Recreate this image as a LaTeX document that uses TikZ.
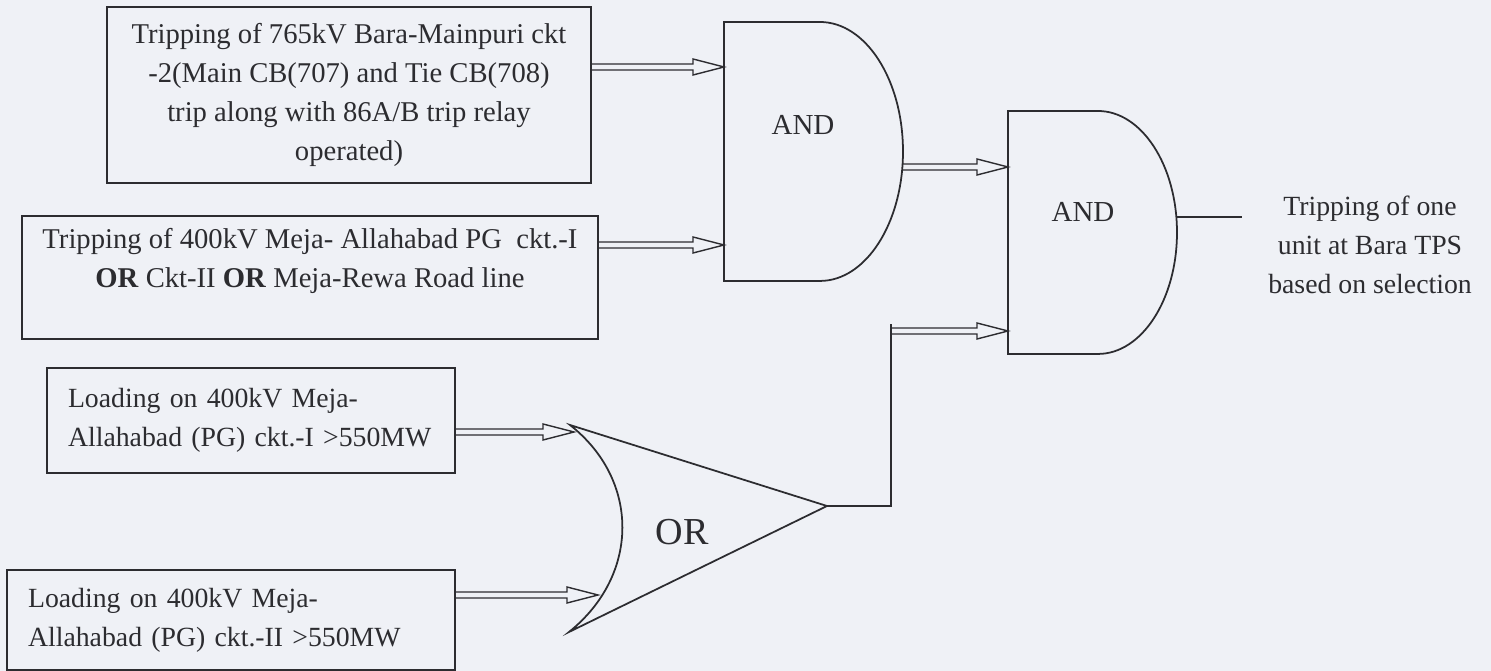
\documentclass[tikz,border=0pt]{standalone}
\usepackage{fontspec}
\setmainfont{Liberation Serif}
\usetikzlibrary{calc,positioning,backgrounds}

\definecolor{paper}{RGB}{239,241,246}
\definecolor{ink}{RGB}{44,44,48}

\tikzset{
  block/.style={draw=ink, line width=1pt, text=ink},
  smalltext/.style={font=\fontsize{15.8}{22.2}\selectfont},
  gate/.style={draw=ink, line width=1pt},
  wire/.style={draw=ink, line width=1pt},
  gatelabel/.style={text=ink, font=\fontsize{16.5}{20}\selectfont},
  dblarrow/.style={draw=ink, line width=0.8pt, to path={
      ($(\tikztostart)+(0,-3)$) -- ($(\tikztotarget)+(-31,-3)$)
      -- ($(\tikztotarget)+(-31,-8)$) -- (\tikztotarget)
      -- ($(\tikztotarget)+(-31,8)$) -- ($(\tikztotarget)+(-31,3)$)
      -- ($(\tikztostart)+(0,3)$)}}
}

\begin{document}
\begin{tikzpicture}[x=0.02cm, y=-0.02cm,
  font=\fontsize{16.3}{22.2}\selectfont,
  execute at end picture=%
  {
    \begin{pgfonlayer}{background}
      \path[fill=paper]
      (current bounding box.south west) rectangle
      (current bounding box.north east);
    \end{pgfonlayer}
  }]
  \useasboundingbox (0,0) rectangle (1491,671);

  % input conditions
  \node[block, minimum width=9.68cm, minimum height=3.52cm, align=center]
    (trip765) at (349,95)
    {Tripping of 765kV Bara-Mainpuri ckt\\ -2(Main CB(707) and Tie CB(708)\\
     trip along with 86A/B trip relay\\ operated)};
  \node[block, minimum width=11.52cm, minimum height=2.46cm, align=center]
    (trip400) at (310,277.5)
    {Tripping of 400kV Meja- Allahabad PG\ \ ckt.-I\\
     \textbf{OR} Ckt-II \textbf{OR} Meja-Rewa Road line\\ \mbox{}};
  \node[block, smalltext, minimum height=2.1cm, inner xsep=0.42cm, text width=7.32cm, align=left]
    (loadone) at (251,420.5)
    {Loading on 400kV Meja-\\ Allahabad (PG) ckt.-I >550MW};
  \node[block, smalltext, minimum height=2cm, inner xsep=0.42cm, text width=8.12cm, align=left]
    (loadtwo) at (231,620)
    {Loading on 400kV Meja-\\ Allahabad (PG) ckt.-II >550MW};

  % gates
  \draw[gate] (724,22) -- (820,22)
    arc[start angle=90, end angle=-90, x radius=1.66cm, y radius=2.59cm]
    -- (724,281) -- cycle;
  \node[gatelabel] (andone) at (803,125) {AND};
  \coordinate (andonein1) at (724,67);
  \coordinate (andonein2) at (724,245);
  \coordinate (andoneout) at (903,167);

  \draw[gate] (1008,111) -- (1098,111)
    arc[start angle=90, end angle=-90, x radius=1.58cm, y radius=2.43cm]
    -- (1008,354) -- cycle;
  \node[gatelabel] (andtwo) at (1083,212) {AND};
  \coordinate (andtwoin1) at (1008,167);
  \coordinate (andtwoin2) at (1008,331);
  \coordinate (andtwoout) at (1177,217);

  \draw[gate] (570,425) .. controls (640,480) and (640,575) .. (569,632)
    -- (827,506) -- cycle;
  \node[gatelabel, font=\fontsize{21.7}{26}\selectfont] (orgate) at (682,532) {OR};
  \coordinate (orin1) at (574,432);
  \coordinate (orin2) at (598,595);
  \coordinate (orout) at (827,506);

  % connections
  \draw[dblarrow] (trip765.east |- andonein1) to (andonein1);
  \draw[dblarrow] (trip400.east |- andonein2) to (andonein2);
  \draw[dblarrow] (loadone.east |- orin1) to (orin1);
  \draw[dblarrow] (loadtwo.east |- orin2) to (orin2);
  \draw[dblarrow] (andoneout) to (andtwoin1);

  \coordinate (orcorner) at (891,506);
  \draw[wire] (orout) -- (orcorner) -- (891,324);
  \draw[dblarrow] (orcorner |- andtwoin2) to (andtwoin2);

  \coordinate (resultin) at (1242,217);
  \draw[wire] (andtwoout) -- (resultin);
  \node[text=ink, smalltext, align=center] (result) at (1370,245)
    {Tripping of one\\ unit at Bara TPS\\ based on selection};
\end{tikzpicture}
\end{document}
